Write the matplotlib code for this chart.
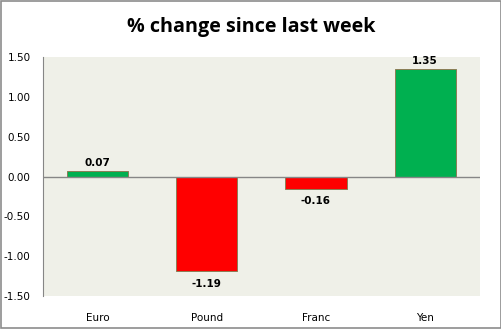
import matplotlib.pyplot as plt
import numpy as np

currencies = ['Euro', 'Pound', 'Franc', 'Yen']
changes = [0.07, -1.19, -0.16, 1.35]
yticks = [-1.5, -1.0, -0.5, 0.0, 0.5, 1.0, 1.5]

fig = plt.figure(figsize=(5.02, 3.29), dpi=100)
fig.patch.set_facecolor('white')
fig.patches.append(plt.Rectangle((0.001, 0.002), 0.997, 0.996, transform=fig.transFigure,
                                 fill=False, edgecolor='#8c8c8c', linewidth=1.2))

ax = fig.add_axes([0.0857, 0.100, 0.870, 0.727])
ax.set_facecolor('#eff0e8')

x = np.arange(len(currencies))
colors = ['#00b050' if v >= 0 else '#ff0000' for v in changes]
ax.bar(x, changes, width=0.56, color=colors, edgecolor='#8b7d55', linewidth=0.7, zorder=2)

for xi, v in zip(x, changes):
    if v >= 0:
        ax.text(xi, v + 0.04, '%.2f' % v, ha='center', va='bottom', fontsize=7.5, fontweight='bold')
    else:
        ax.text(xi, v - 0.09, '%.2f' % v, ha='center', va='top', fontsize=7.5, fontweight='bold')

ax.axhline(0, color='#868686', linewidth=1, zorder=3)
ax.set_xlim(-0.5, len(currencies) - 0.5)
ax.set_ylim(-1.5, 1.5)
ax.set_yticks(yticks)
ax.set_yticklabels(['%.2f' % t for t in yticks], fontsize=7.5)
ax.set_xticks(x)
ax.set_xticklabels(currencies, fontsize=7.5)
ax.tick_params(axis='x', length=0, pad=12)
ax.tick_params(axis='y', length=0, pad=9)
for s in ['top', 'right', 'bottom']:
    ax.spines[s].set_visible(False)
ax.spines['left'].set_color('#868686')

fig.text(0.5, 0.918, '% change since last week', ha='center', va='center',
         fontsize=14.2, fontweight='bold', family='Open Sans')

fig.savefig('out.png', dpi=100)
